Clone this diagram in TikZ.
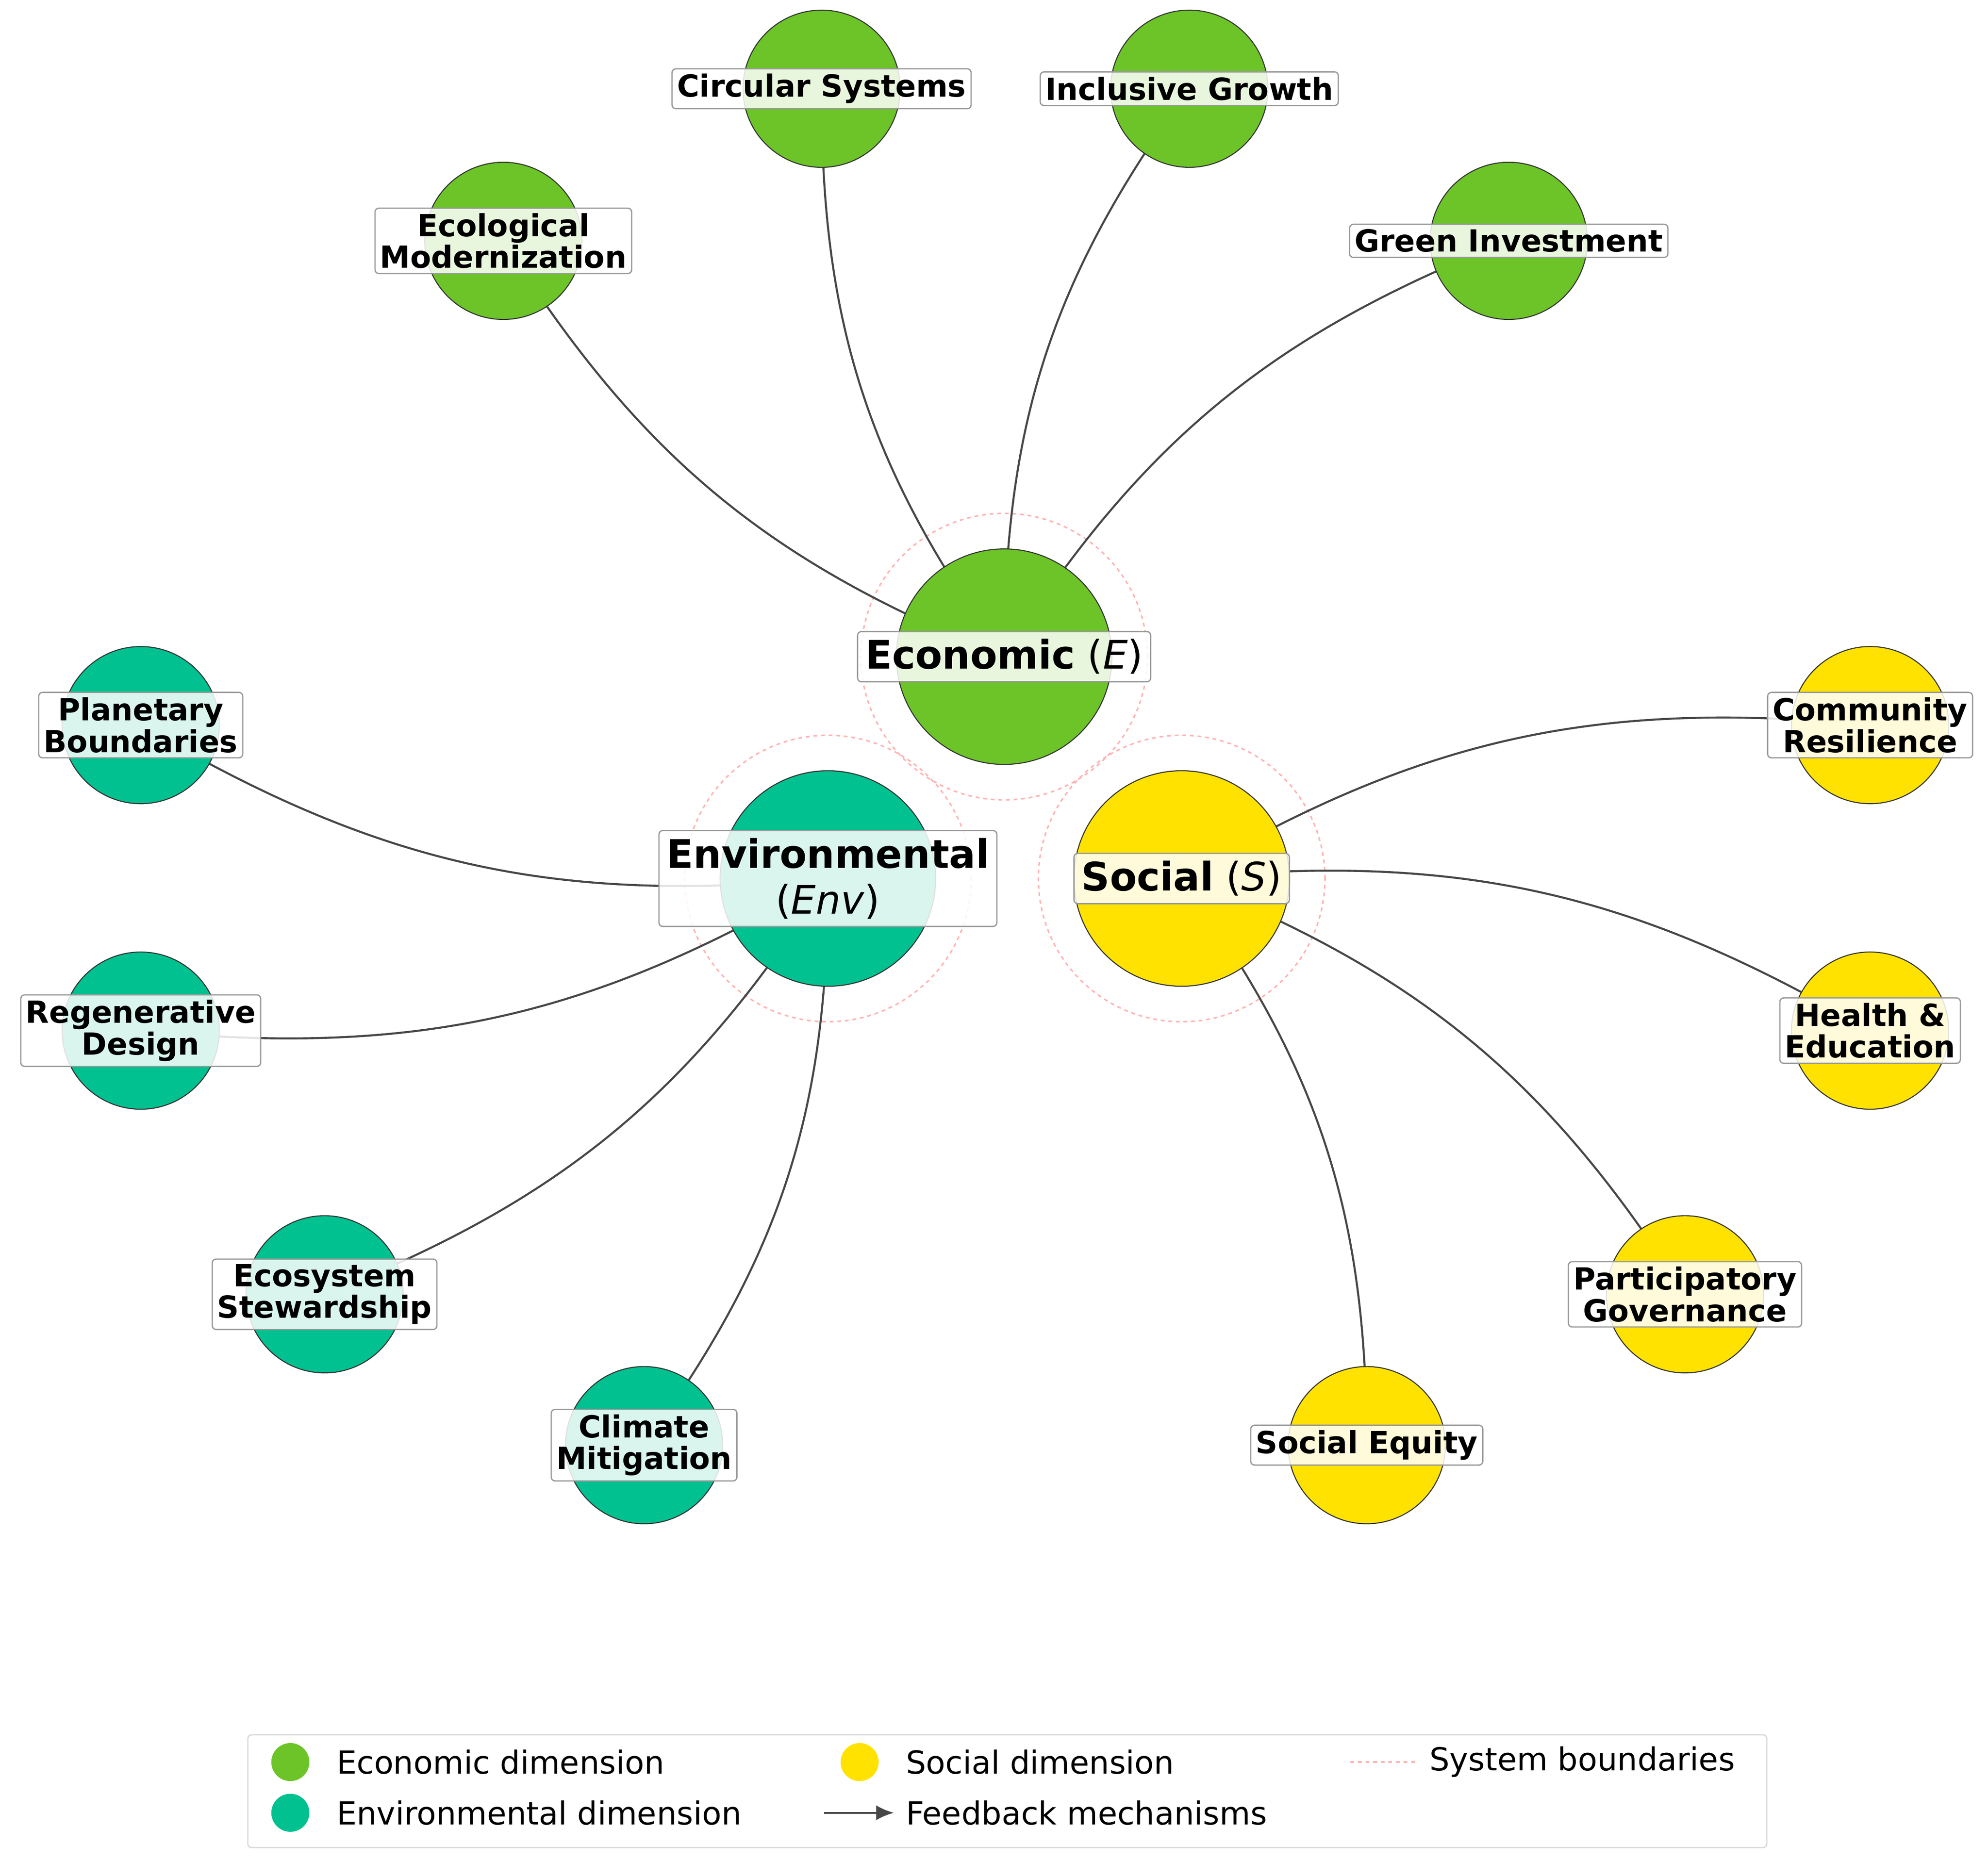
\documentclass[tikz,border=0pt]{standalone}
\usepackage{fontspec}
\setmainfont{DejaVu Sans}
\usetikzlibrary{arrows.meta}
\begin{document}
\begin{tikzpicture}[x=1pt,y=-1pt,
  ec/.style={circle,draw=black!80,line width=0.8pt,fill=ecg,minimum size=124pt,inner sep=0},
  en/.style={circle,draw=black!80,line width=0.8pt,fill=ent,minimum size=124pt,inner sep=0},
  so/.style={circle,draw=black!80,line width=0.8pt,fill=soy,minimum size=124pt,inner sep=0},
  big/.style={minimum size=170pt},
  bnd/.style={draw=pinkb,dashed,line width=1.2pt,circle,minimum size=226pt,inner sep=0},
  lab/.style={draw=black!40,line width=1pt,fill=white,fill opacity=0.85,text opacity=1,rounded corners=3pt,font=\fontsize{24}{25}\selectfont\bfseries,align=center,inner sep=4pt},
  clab/.style={lab,font=\fontsize{31}{36}\selectfont,inner sep=6pt},
  ed/.style={draw=black!72,line width=1.6pt,bend left=18},
  lt/.style={anchor=west,font=\fontsize{25}{27}\selectfont}]
\definecolor{ecg}{HTML}{6CC428}
\definecolor{ent}{HTML}{00C18F}
\definecolor{soy}{HTML}{FFE200}
\definecolor{pinkb}{HTML}{FFB3B3}
\useasboundingbox (0,0) rectangle (1568,1468);
% boundaries
\node[bnd] (bE) at (792,518) {};
\node[bnd] (bN) at (653,693) {};
\node[bnd] (bS) at (932,693) {};
% coordinates for nodes
\coordinate (E) at (792,518);
\coordinate (N) at (653,693);
\coordinate (S) at (932,693);
\coordinate (e1) at (397,190);
\coordinate (e2) at (648,70);
\coordinate (e3) at (938,70);
\coordinate (e4) at (1190,190);
\coordinate (n1) at (111,572);
\coordinate (n2) at (111,813);
\coordinate (n3) at (256,1021);
\coordinate (n4) at (508,1140);
\coordinate (s1) at (1475,572);
\coordinate (s2) at (1475,813);
\coordinate (s3) at (1329,1021);
\coordinate (s4) at (1078,1140);
% edges
\foreach \t in {e1,e2,e3,e4} \draw[ed] (E) to (\t);
\foreach \t in {n1,n2,n3,n4} \draw[ed] (N) to (\t);
\foreach \t in {s1,s2,s3,s4} \draw[ed] (S) to (\t);
% circles
\node[ec] (ce1) at (e1) {};
\node[ec] (ce2) at (e2) {};
\node[ec] (ce3) at (e3) {};
\node[ec] (ce4) at (e4) {};
\node[en] (cn1) at (n1) {};
\node[en] (cn2) at (n2) {};
\node[en] (cn3) at (n3) {};
\node[en] (cn4) at (n4) {};
\node[so] (cs1) at (s1) {};
\node[so] (cs2) at (s2) {};
\node[so] (cs3) at (s3) {};
\node[so] (cs4) at (s4) {};
\node[ec,big] (cE) at (E) {};
\node[en,big] (cN) at (N) {};
\node[so,big] (cS) at (S) {};
% labels
\node[lab] (le1) at (e1) {Ecological\\Modernization};
\node[lab] (le2) at (e2) {Circular Systems};
\node[lab] (le3) at (e3) {Inclusive Growth};
\node[lab] (le4) at (e4) {Green Investment};
\node[lab] (ln1) at (n1) {Planetary\\Boundaries};
\node[lab] (ln2) at (n2) {Regenerative\\Design};
\node[lab] (ln3) at (n3) {Ecosystem\\Stewardship};
\node[lab] (ln4) at (n4) {Climate\\Mitigation};
\node[lab] (ls1) at (s1) {Community\\Resilience};
\node[lab] (ls2) at (s2) {Health \&\\Education};
\node[lab] (ls3) at (s3) {Participatory\\Governance};
\node[lab] (ls4) at (s4) {Social Equity};
\node[clab] (lE) at (E) {\textbf{Economic} (\textit{E})};
\node[clab] (lN) at (N) {\textbf{Environmental}\\(\textit{Env})};
\node[clab] (lS) at (S) {\textbf{Social} (\textit{S})};
% legend
\node[draw=black!15,line width=1pt,rounded corners=3pt,minimum width=1198pt,minimum height=89pt,anchor=north west] (leg) at (195,1368) {};
\node[circle,fill=ecg,minimum size=30pt,inner sep=0] (d1) at (229,1390) {};
\node[circle,fill=ent,minimum size=30pt,inner sep=0] (d2) at (229,1430) {};
\node[circle,fill=soy,minimum size=30pt,inner sep=0] (d3) at (678,1390) {};
\node[lt] (t1) at (262,1390) {Economic dimension};
\node[lt] (t2) at (262,1430) {Environmental dimension};
\node[lt] (t3) at (711,1390) {Social dimension};
\node[lt] (t4) at (711,1430) {Feedback mechanisms};
\node[lt] (t5) at (1124,1390) {System boundaries};
\coordinate (a1) at (650,1430);
\coordinate (a2) at (705,1430);
\draw[black!72,line width=1.6pt,-{Latex[length=14pt,width=12pt]}] (a1) -- (a2);
\coordinate (p1) at (1065,1390);
\coordinate (p2) at (1118,1390);
\draw[pinkb,dashed,line width=1.2pt] (p1) -- (p2);
\end{tikzpicture}
\end{document}
